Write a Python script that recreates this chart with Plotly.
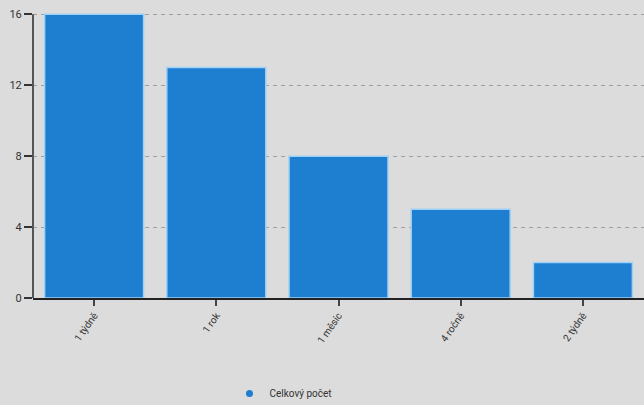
import plotly.graph_objects as go

categories = ["1 týdně", "1 rok", "1 měsíc", "4 ročně", "2 týdně"]
values = [16, 13, 8, 5, 2]
series_name = "Celkový počet"
y_ticks = [0, 4, 8, 12, 16]

bar_color = "#1e7fd0"
bg = "#dcdcdc"

fig = go.Figure()
fig.add_trace(go.Bar(
    x=categories, y=values, name=series_name, showlegend=False,
    marker=dict(color=bar_color, line=dict(color="#9fd0f5", width=1.5)),
))
fig.add_trace(go.Scatter(
    x=[None], y=[None], mode="markers", name=series_name,
    marker=dict(color=bar_color, size=7, symbol="circle"),
))

fig.update_layout(
    width=644, height=405,
    margin=dict(l=33, r=0, t=9, b=107, autoexpand=False),
    paper_bgcolor=bg, plot_bgcolor=bg,
    bargap=0.19,
    font=dict(family="Roboto", color="#333333"),
    showlegend=True,
    legend=dict(orientation="h", x=0.41, xanchor="center", y=-0.28, yanchor="top",
                font=dict(size=10, color="#333333"), itemwidth=30,
                bgcolor="rgba(0,0,0,0)"),
)
fig.update_xaxes(
    showgrid=False, showline=True, linecolor="#222222", linewidth=1.5,
    ticks="outside", ticklen=6, tickcolor="#444444", tickwidth=1.5,
    tickangle=-55, tickfont=dict(size=10, color="#333333"),
    range=[-0.5, 4.5], automargin=False,
)
fig.update_yaxes(
    range=[0, 16.3], tickvals=y_ticks, showline=False,
    ticks="outside", ticklen=8, tickcolor="#333333", tickwidth=1.5,
    showgrid=True, gridcolor="#a0a0a0", griddash="4px,4px", gridwidth=1,
    zeroline=False, tickfont=dict(size=11, color="#333333"), automargin=False,
)
# y axis line from 0 to 16 only
fig.add_shape(type="line", xref="paper", yref="y", x0=0, x1=0, y0=0, y1=y_ticks[-1],
              line=dict(color="#555555", width=2), layer="above")

fig.write_html("out.html", config={"displayModeBar": False},
               post_script="document.body.style.margin='0';document.body.style.background='#dcdcdc';")
